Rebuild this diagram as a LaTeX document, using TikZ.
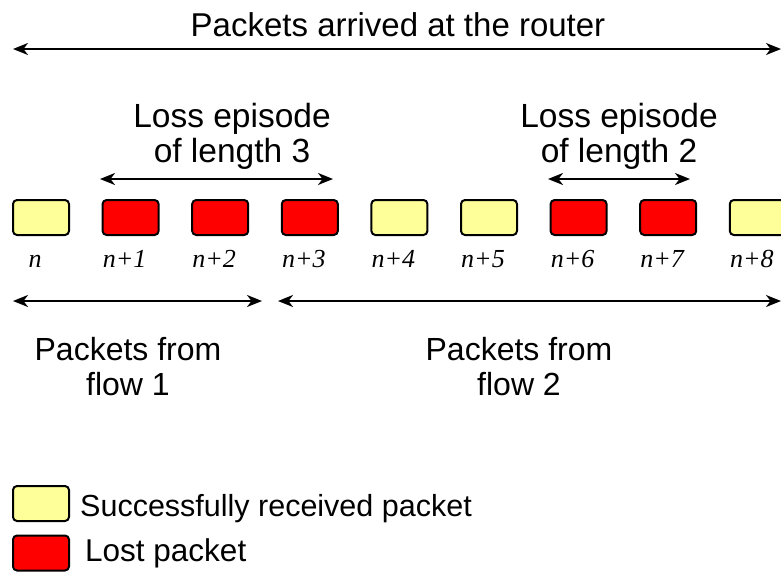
\documentclass[tikz,border=0pt]{standalone}
\usepackage{fontspec}
\setmainfont{Liberation Sans}
\newfontfamily\idxfont{Liberation Serif}
\usetikzlibrary{arrows.meta}
\definecolor{okfill}{HTML}{FFFF99}
\definecolor{lostfill}{HTML}{FF0000}
\begin{document}
\begin{tikzpicture}[x=1pt,y=-1pt,
  pkt/.style={draw=black, line width=2pt, rounded corners=4pt,
    minimum width=56pt, minimum height=35pt, inner sep=0pt},
  ok/.style={pkt, fill=okfill},
  lost/.style={pkt, fill=lostfill},
  span/.style={line width=2pt, {Stealth[length=15pt,width=12pt,inset=4.5pt]}-{Stealth[length=15pt,width=12pt,inset=4.5pt]}},
  txt/.style={font=\fontsize{33}{34.5}\selectfont, align=center, inner sep=0pt, anchor=base},
  idx/.style={font=\idxfont\itshape\fontsize{26}{30}\selectfont, inner sep=0pt, anchor=base}]
\useasboundingbox (0,0) rectangle (781,571);

% packet row with their sequence numbers
\foreach \i/\kind/\lab in {0/ok/n, 1/lost/n+1, 2/lost/n+2, 3/lost/n+3, 4/ok/n+4,
                          5/ok/n+5, 6/lost/n+6, 7/lost/n+7, 8/ok/n+8} {
  \node[\kind] (p\i) at ({41+89.6*\i},217.5) {};
  \node[idx] (l\i) at ({35+89.6*\i},267) {\lab};
}

% whole arrival span
\node[txt] (title) at (398,36.7) {Packets arrived at the router};
\coordinate (tl) at (13,49);
\coordinate (tr) at (781,49);
\draw[span] (tl) -- (tr);

% loss episodes (base anchor sits on the last line)
\node[txt, font=\fontsize{33.5}{35}\selectfont] (ep1) at (232,162) {Loss episode\\of length 3};
\coordinate (e1l) at (100,179);
\coordinate (e1r) at (333,179);
\draw[span] (e1l) -- (e1r);

\node[txt, font=\fontsize{33.5}{35}\selectfont] (ep2) at (619,162) {Loss episode\\of length 2};
\coordinate (e2l) at (548,179);
\coordinate (e2r) at (690,179);
\draw[span] (e2l) -- (e2r);

% flows
\coordinate (f1l) at (13,301);
\coordinate (f1r) at (262,301);
\draw[span] (f1l) -- (f1r);
\coordinate (f2l) at (278,301);
\coordinate (f2r) at (781,301);
\draw[span] (f2l) -- (f2r);
\node[txt, font=\fontsize{32}{35.5}\selectfont] (fl1) at (128,395.5) {Packets from\\flow 1};
\node[txt, font=\fontsize{32}{35.5}\selectfont] (fl2) at (519,395.5) {Packets from\\flow 2};

% legend
\node[ok] (k1) at (41,503.5) {};
\node[lost] (k2) at (41,553) {};
\node[txt, font=\fontsize{30.5}{34}\selectfont, anchor=base west] (t1) at (80,516.7) {Successfully received packet};
\node[txt, font=\fontsize{31.5}{34}\selectfont, anchor=base west] (t2) at (85,561) {Lost packet};
\end{tikzpicture}
\end{document}
